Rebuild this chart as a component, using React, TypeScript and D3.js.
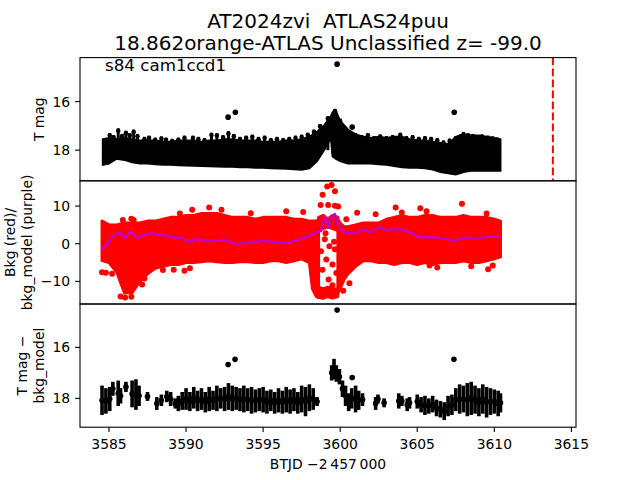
import * as d3 from 'd3';

const FONT = '"DejaVu Sans", sans-serif';
const RED = '#ff0000';
const PURPLE = '#bf00c8';

const TITLE_LINES = ['AT2024zvi  ATLAS24puu', '18.862orange-ATLAS Unclassified z= -99.0'];
const SECTOR_NOTE = 's84 cam1ccd1';
const X_LABEL = 'BTJD \u22122\u2009457\u2009000';
const X_TICKS = [3585, 3590, 3595, 3600, 3605, 3610, 3615];
const MAG_TICKS = [16, 18];
const BKG_TICKS = [10, 0, -10];
const DISCOVERY_T = 3613.8;

// top panel: light curve envelope (T mag)
const LC_TIME = [
  3584.6, 3585.0, 3585.5, 3586.0, 3586.5, 3587.0, 3587.5, 3588.0, 3588.5, 3589.0, 3589.5, 3590.0,
  3590.5, 3591.0, 3591.5, 3592.0, 3592.5, 3593.0, 3593.5, 3594.0, 3594.5, 3595.0, 3595.5, 3596.0,
  3596.5, 3597.0, 3597.5, 3598.0, 3598.5, 3599.0, 3599.4, 3599.5, 3599.7, 3600.0, 3600.5, 3601.0,
  3601.5, 3602.0, 3602.5, 3603.0, 3603.5, 3604.0, 3604.5, 3605.0, 3605.5, 3606.0, 3606.5, 3607.0,
  3607.5, 3608.0, 3608.5, 3609.0, 3609.5, 3610.0, 3610.4,
];
const LC_BRIGHT = [
  17.55, 17.5, 17.55, 17.5, 17.55, 17.6, 17.6, 17.6, 17.65, 17.65, 17.6, 17.6,
  17.6, 17.65, 17.6, 17.6, 17.55, 17.55, 17.6, 17.6, 17.6, 17.65, 17.65, 17.65,
  17.6, 17.6, 17.55, 17.45, 17.25, 16.95, 16.6, 16.45, 16.35, 16.8, 17.15, 17.35,
  17.45, 17.5, 17.45, 17.5, 17.45, 17.45, 17.55, 17.6, 17.6, 17.65, 17.7, 17.75,
  17.45, 17.35, 17.4, 17.4, 17.45, 17.5, 17.55,
];
const LC_FAINT = [
  18.6, 18.55, 18.35, 18.4, 18.5, 18.55, 18.55, 18.58, 18.6, 18.6, 18.62, 18.63,
  18.64, 18.65, 18.66, 18.67, 18.68, 18.68, 18.7, 18.7, 18.72, 18.72, 18.74, 18.75,
  18.76, 18.78, 18.8, 18.75, 18.45, 17.95, 17.5, 18.25, 18.35, 18.45, 18.55, 18.55,
  18.55, 18.55, 18.58, 18.6, 18.65, 18.7, 18.72, 18.72, 18.74, 18.8, 18.9, 18.95,
  19.0, 18.9, 18.85, 18.85, 18.85, 18.85, 18.85,
];
// brightest error-bar tips sticking out of the band [time, mag]
const LC_SPIKES: [number, number][] = [
  [3585.05, 17.3], [3585.3, 17.38], [3585.6, 17.1], [3585.85, 17.33], [3586.1, 17.2],
  [3586.35, 17.3], [3586.6, 17.15], [3586.85, 17.33], [3587.3, 17.45], [3587.6, 17.4],
  [3588.0, 17.48], [3588.4, 17.43], [3588.7, 17.48], [3589.1, 17.53], [3589.5, 17.48],
  [3589.9, 17.4], [3590.45, 17.4], [3590.8, 17.45], [3591.2, 17.5], [3591.65, 17.28],
  [3592.0, 17.3], [3592.4, 17.38], [3592.75, 17.22], [3593.1, 17.33], [3593.5, 17.45],
  [3593.9, 17.4], [3594.3, 17.36], [3594.7, 17.45], [3595.1, 17.4], [3595.5, 17.5],
  [3595.9, 17.45], [3596.3, 17.5], [3596.7, 17.45], [3597.1, 17.4], [3597.5, 17.36],
  [3597.9, 17.28], [3598.3, 17.15], [3598.7, 16.92], [3599.2, 16.6], [3599.66, 16.3],
  [3600.0, 16.7], [3600.4, 17.08], [3601.0, 17.3], [3601.4, 17.38], [3601.8, 17.3],
  [3602.2, 17.42], [3602.6, 17.35], [3603.0, 17.42], [3603.4, 17.38], [3603.9, 17.28],
  [3604.3, 17.42], [3604.7, 17.38], [3605.1, 17.45], [3605.5, 17.42], [3605.9, 17.45],
  [3606.3, 17.5], [3606.7, 17.6], [3607.1, 17.52], [3607.5, 17.42], [3607.8, 17.35],
  [3608.0, 17.25], [3608.3, 17.3], [3608.6, 17.33], [3608.9, 17.4], [3609.2, 17.35],
  [3609.6, 17.4], [3609.9, 17.43], [3610.2, 17.48],
];
const LC_OUTLIERS: [number, number][] = [
  [3592.73, 16.64], [3593.2, 16.44], [3599.8, 14.46], [3600.78, 17.05], [3607.4, 16.44],
];

// middle panel: background flux (red) envelope
const BKG_A_TIME = [
  3584.55, 3585.0, 3585.5, 3586.0, 3586.5, 3587.0, 3587.5, 3588.0, 3588.5, 3589.0, 3589.5, 3590.0,
  3590.5, 3591.0, 3591.5, 3592.0, 3592.5, 3593.0, 3593.5, 3594.0, 3594.5, 3595.0, 3595.5, 3596.0,
  3596.5, 3597.0, 3597.5, 3598.0, 3598.2, 3598.45, 3598.6,
];
const BKG_A_HIGH = [
  6.0, 5.0, 5.0, 5.5, 5.5, 5.5, 6.0, 6.0, 6.5, 7.0, 7.0, 7.5,
  7.5, 8.0, 8.0, 8.0, 7.5, 7.0, 7.0, 7.0, 6.5, 7.0, 7.0, 7.0,
  7.0, 6.5, 6.5, 6.0, 6.0, 6.0, 6.5,
];
const BKG_A_LOW = [
  -4.5, -5.0, -7.5, -13.0, -13.0, -10.0, -8.0, -6.5, -6.0, -5.5, -5.5, -5.0,
  -5.0, -4.8, -4.5, -4.8, -5.0, -5.0, -4.8, -4.8, -5.0, -5.0, -4.5, -4.5,
  -5.0, -4.5, -4.0, -5.0, -12.0, -14.0, -14.3,
];
const BKG_B_TIME = [
  3599.85, 3600.0, 3600.25, 3600.5, 3601.0, 3601.5, 3602.0, 3602.5, 3603.0, 3603.5, 3604.0, 3604.5,
  3605.0, 3605.5, 3606.0, 3606.5, 3607.0, 3607.5, 3608.0, 3608.5, 3609.0, 3609.5, 3610.0, 3610.4,
];
const BKG_B_HIGH = [
  6.5, 5.5, 4.5, 4.5, 5.0, 5.5, 5.5, 5.5, 6.5, 7.0, 7.5, 7.0,
  7.0, 7.5, 7.5, 7.0, 7.0, 7.0, 7.5, 7.0, 7.0, 7.0, 6.5, 6.0,
];
const BKG_B_LOW = [
  -13.0, -12.0, -9.5, -8.0, -6.0, -4.5, -4.5, -5.0, -5.0, -5.5, -5.0, -5.0,
  -5.5, -5.0, -5.5, -5.0, -5.0, -5.0, -4.5, -5.0, -5.0, -4.5, -4.0, -3.5,
];
// the split around the flare: a band above and a band below the gap
const DIP_TIME = [3598.6, 3598.9, 3599.2, 3599.5, 3599.85];
const DIP_UP_HIGH = [7.0, 7.5, 6.5, 7.5, 7.0];
const DIP_UP_LOW = [3.5, 4.0, 4.5, 4.0, 3.5];
const DIP_DOWN_HIGH = [-11.5, -12.0, -11.5, -12.0, -12.0];
const DIP_DOWN_LOW = [-14.3, -14.5, -14.0, -14.4, -14.0];
const BKG_DOTS: [number, number][] = [
  [3599.16, 15.2], [3599.44, 15.6], [3599.66, 13.9], [3598.86, 13.0], [3598.73, 10.3],
  [3599.22, 10.3], [3599.66, 10.1], [3599.87, 9.9], [3599.0, 1.2], [3599.3, -0.7],
  [3598.76, -2.0], [3599.66, -1.5], [3599.1, -4.2], [3599.5, -5.5], [3598.85, -6.9],
  [3599.75, -7.8], [3599.25, -9.5], [3599.5, -11.0], [3599.05, 2.8], [3599.6, 0.5],
  [3584.55, -7.6], [3584.8, -7.7], [3585.2, -8.0], [3585.75, -14.0], [3586.05, -14.3],
  [3586.45, -14.1], [3587.15, -10.8], [3587.3, -9.2], [3585.9, 6.3], [3586.6, 6.3],
  [3586.45, 6.6], [3588.5, -7.0], [3589.2, -6.9], [3589.9, -7.2], [3590.25, -6.5],
  [3589.6, 8.0], [3590.4, 9.0], [3591.5, 9.6], [3592.3, 9.0], [3594.2, 8.1],
  [3596.5, 8.6], [3597.6, 8.4],
  [3600.4, 6.5], [3601.1, 8.2], [3602.3, 7.8], [3603.6, 9.6], [3604.0, 8.3],
  [3605.2, 9.4], [3605.6, 8.6], [3607.9, 10.6], [3609.5, 8.0], [3605.8, -5.8],
  [3606.3, -6.3], [3608.5, -6.0], [3609.6, -6.8], [3609.9, -5.8], [3600.6, -10.5],
  [3600.2, -12.5],
];
// background model (purple)
const MODEL_TIME = [
  3584.51, 3584.94, 3585.26, 3585.69, 3586.02, 3586.25, 3586.45, 3586.78, 3587.1, 3587.75,
  3588.4, 3589.05, 3589.7, 3590.35, 3590.56, 3591.65, 3592.51, 3593.16, 3594.03, 3595.11,
  3596.41, 3597.27, 3598.03, 3598.46, 3598.79, 3599.0, 3599.22, 3599.44, 3599.65, 3599.87,
  3600.09, 3600.41, 3601.06, 3601.49, 3601.93, 3602.57, 3603.01, 3603.66, 3604.31, 3605.17,
  3606.04, 3606.9, 3607.34, 3608.2, 3608.85, 3609.5, 3610.37,
];
const MODEL_VALUE = [
  -1.4, 0.0, 2.1, 3.0, 1.5, 2.8, 3.0, 1.5, 2.0, 2.8,
  2.3, 1.8, 1.5, 0.35, 1.2, 0.8, 1.1, -0.1, 0.3, 0.8,
  0.1, 1.0, 2.1, 3.0, 3.5, 7.4, 4.3, 6.9, 7.9, 5.5,
  3.6, 2.7, 3.0, 3.85, 3.0, 4.4, 3.5, 3.9, 3.5, 1.7,
  1.7, 1.3, 0.8, 1.7, 1.3, 1.9, 1.9,
];

// bottom panel: T mag - bkg_model, binned error bars [time, bright, faint]
const CORR_BARS: [number, number, number][] = [
  [3584.55, 17.5, 18.65], [3584.8, 17.6, 18.6], [3585.05, 17.55, 18.5], [3585.25, 17.35, 17.9],
  [3585.6, 17.3, 18.3], [3585.75, 17.6, 18.2], [3586.1, 17.35, 17.75], [3586.5, 17.3, 18.35],
  [3586.75, 17.25, 18.45], [3586.95, 17.5, 18.3], [3587.5, 17.75, 18.1], [3588.1, 17.95, 18.45],
  [3588.4, 17.85, 18.3], [3588.75, 17.7, 18.15], [3589.0, 17.75, 18.3], [3589.3, 18.0, 18.4],
  [3589.5, 17.9, 18.5], [3589.75, 17.75, 18.45], [3590.0, 17.6, 18.45], [3590.25, 17.75, 18.5],
  [3590.5, 17.55, 18.4], [3590.75, 17.7, 18.5], [3591.0, 17.6, 18.45], [3591.25, 17.75, 18.55],
  [3591.5, 17.55, 18.5], [3591.75, 17.7, 18.45], [3592.0, 17.5, 18.5], [3592.25, 17.6, 18.4],
  [3592.5, 17.55, 18.5], [3592.75, 17.4, 18.45], [3593.0, 17.5, 18.5], [3593.25, 17.55, 18.45],
  [3593.5, 17.6, 18.5], [3593.75, 17.5, 18.55], [3594.0, 17.6, 18.5], [3594.25, 17.55, 18.6],
  [3594.5, 17.65, 18.55], [3594.75, 17.6, 18.5], [3595.0, 17.55, 18.55], [3595.25, 17.7, 18.6],
  [3595.5, 17.65, 18.5], [3595.75, 17.75, 18.6], [3596.0, 17.6, 18.55], [3596.25, 17.7, 18.6],
  [3596.5, 17.55, 18.55], [3596.75, 17.65, 18.6], [3597.0, 17.6, 18.5], [3597.25, 17.75, 18.6],
  [3597.5, 17.5, 18.55], [3597.75, 17.55, 18.7], [3598.0, 17.45, 18.5], [3598.25, 17.6, 18.45],
  [3598.5, 17.95, 18.3], [3599.45, 16.7, 17.3], [3599.6, 16.45, 17.25], [3599.75, 16.7, 17.35],
  [3599.95, 16.85, 17.45], [3600.15, 17.3, 17.95], [3600.35, 17.5, 18.3], [3600.55, 17.8, 18.5],
  [3600.75, 17.6, 18.4], [3601.0, 17.5, 18.55], [3601.2, 17.7, 18.45], [3601.45, 17.8, 18.3],
  [3602.3, 17.95, 18.45], [3602.45, 17.85, 18.2], [3602.85, 18.0, 18.35], [3603.8, 17.8, 18.4],
  [3604.0, 17.9, 18.3], [3604.35, 18.0, 18.5], [3604.5, 17.95, 18.4], [3605.0, 17.85, 18.4],
  [3605.25, 17.95, 18.55], [3605.5, 17.9, 18.65], [3605.75, 18.0, 18.6], [3606.0, 17.9, 18.55],
  [3606.25, 18.05, 18.7], [3606.5, 18.1, 18.75], [3606.75, 18.15, 18.85], [3607.0, 17.9, 18.7],
  [3607.25, 17.85, 18.65], [3607.5, 17.6, 18.5], [3607.75, 17.45, 18.6], [3608.0, 17.5, 18.55],
  [3608.25, 17.4, 18.7], [3608.5, 17.35, 18.65], [3608.75, 17.5, 18.6], [3609.0, 17.6, 18.7],
  [3609.25, 17.45, 18.6], [3609.5, 17.55, 18.75], [3609.75, 17.6, 18.65], [3610.0, 17.65, 18.6],
  [3610.25, 17.7, 18.7], [3610.4, 17.8, 18.55],
];
const CORR_OUTLIERS: [number, number][] = [
  [3592.73, 16.67], [3593.18, 16.47], [3599.8, 14.54], [3600.78, 17.18], [3607.38, 16.47],
];

const W = 640;
const H = 480;
const LEFT = 80;
const RIGHT = 576;
const PANEL_H = 123.2;
const TOPS = [57.6, 57.6 + PANEL_H, 57.6 + 2 * PANEL_H];
const TICK = 4.9;
const TICK_FS = 13.9;

const fmt = (v: number) => (v < 0 ? `\u2212${Math.abs(v)}` : `${v}`);

function YAxis({ scale, ticks }: { scale: d3.ScaleLinear<number, number>; ticks: number[] }) {
  return (
    <g>
      {ticks.map((t) => (
        <g key={t}>
          <line x1={LEFT - TICK} x2={LEFT} y1={scale(t)} y2={scale(t)} stroke="#000" strokeWidth={1.1} />
          <text
            x={LEFT - TICK - 4.9}
            y={scale(t)}
            dy="0.36em"
            textAnchor="end"
            fontSize={TICK_FS}
            fontFamily={FONT}
          >
            {fmt(t)}
          </text>
        </g>
      ))}
    </g>
  );
}

function YLabel({ lines, x, cy }: { lines: string[]; x: number; cy: number }) {
  const gap = 16.7;
  return (
    <g>
      {lines.map((l, i) => (
        <text
          key={l}
          transform={`translate(${x - (lines.length - 1 - i) * gap},${cy}) rotate(-90)`}
          textAnchor="middle"
          fontSize={TICK_FS}
          fontFamily={FONT}
        >
          {l}
        </text>
      ))}
    </g>
  );
}

export default function App() {
  const x = d3.scaleLinear().domain([3583.12, 3615.3]).range([LEFT, RIGHT]);
  const yTop = d3.scaleLinear().domain([14.19, 19.26]).range([TOPS[0], TOPS[0] + PANEL_H]);
  const yMid = d3.scaleLinear().domain([16.7, -16.0]).range([TOPS[1], TOPS[1] + PANEL_H]);
  const yBot = d3.scaleLinear().domain([14.3, 19.13]).range([TOPS[2], TOPS[2] + PANEL_H]);

  const band = (
    time: number[],
    hi: number[],
    lo: number[],
    y: d3.ScaleLinear<number, number>,
  ) =>
    d3
      .area<number>()
      .x((i) => x(time[i]))
      .y0((i) => y(lo[i]))
      .y1((i) => y(hi[i]))(d3.range(time.length)) ?? '';

  const modelLine =
    d3
      .line<number>()
      .x((i) => x(MODEL_TIME[i]))
      .y((i) => yMid(MODEL_VALUE[i]))(d3.range(MODEL_TIME.length)) ?? '';

  const bottomY = TOPS[2] + PANEL_H;
  const redBand = { fill: RED, stroke: RED, strokeWidth: 3, strokeLinejoin: 'round' as const };

  return (
    <svg
      width={W}
      height={H}
      style={{ position: 'absolute', left: 0, top: 0, background: '#fff' }}
      fontFamily={FONT}
    >
      <rect width={W} height={H} fill="#fff" />

      {TITLE_LINES.map((t, i) => (
        <text
          key={t}
          x={328}
          y={28 + i * 22}
          textAnchor="middle"
          fontSize={20}
          style={{ whiteSpace: 'pre' }}
        >
          {t}
        </text>
      ))}

      {/* top panel */}
      <path d={band(LC_TIME, LC_BRIGHT, LC_FAINT, yTop)} fill="#000" stroke="#000" strokeWidth={2} />
      {LC_SPIKES.map(([t, m], i) => (
        <g key={i}>
          <line x1={x(t)} x2={x(t)} y1={yTop(m)} y2={yTop(18.0)} stroke="#000" strokeWidth={3} />
          <circle cx={x(t)} cy={yTop(m + 0.1)} r={2.3} fill="#000" />
        </g>
      ))}
      {LC_OUTLIERS.map(([t, m], i) => (
        <circle key={i} cx={x(t)} cy={yTop(m)} r={2.8} fill="#000" />
      ))}
      <line
        x1={x(DISCOVERY_T)}
        x2={x(DISCOVERY_T)}
        y1={TOPS[0]}
        y2={TOPS[0] + PANEL_H}
        stroke={RED}
        strokeWidth={2}
        strokeDasharray="7.7 3.3"
      />
      <text x={105} y={70.5} fontSize={16.7}>
        {SECTOR_NOTE}
      </text>

      {/* middle panel */}
      <path d={band(BKG_A_TIME, BKG_A_HIGH, BKG_A_LOW, yMid)} {...redBand} />
      <path d={band(BKG_B_TIME, BKG_B_HIGH, BKG_B_LOW, yMid)} {...redBand} />
      <path d={band(DIP_TIME, DIP_UP_HIGH, DIP_UP_LOW, yMid)} {...redBand} />
      <path d={band(DIP_TIME, DIP_DOWN_HIGH, DIP_DOWN_LOW, yMid)} {...redBand} />
      {BKG_DOTS.map(([t, v], i) => (
        <circle key={i} cx={x(t)} cy={yMid(v)} r={3} fill={RED} />
      ))}
      <path d={modelLine} fill="none" stroke={PURPLE} strokeWidth={2.4} strokeLinejoin="round" />

      {/* bottom panel */}
      {CORR_BARS.map(([t, b, f], i) => (
        <g key={i}>
          <line x1={x(t)} x2={x(t)} y1={yBot(b)} y2={yBot(f)} stroke="#000" strokeWidth={3.6} />
          <circle cx={x(t)} cy={yBot((b + f) / 2)} r={2.8} fill="#000" />
        </g>
      ))}
      {CORR_OUTLIERS.map(([t, m], i) => (
        <circle key={i} cx={x(t)} cy={yBot(m)} r={2.8} fill="#000" />
      ))}

      {/* frames */}
      {TOPS.map((top) => (
        <rect
          key={top}
          x={LEFT}
          y={top}
          width={RIGHT - LEFT}
          height={PANEL_H}
          fill="none"
          stroke="#000"
          strokeWidth={1.1}
        />
      ))}

      <YAxis scale={yTop} ticks={MAG_TICKS} />
      <YAxis scale={yMid} ticks={BKG_TICKS} />
      <YAxis scale={yBot} ticks={MAG_TICKS} />

      {X_TICKS.map((t) => (
        <g key={t}>
          <line x1={x(t)} x2={x(t)} y1={bottomY} y2={bottomY + TICK} stroke="#000" strokeWidth={1.1} />
          <text x={x(t)} y={bottomY + 21.5} textAnchor="middle" fontSize={TICK_FS}>
            {t}
          </text>
        </g>
      ))}
      <text x={328} y={468.5} textAnchor="middle" fontSize={TICK_FS}>
        {X_LABEL}
      </text>

      <YLabel lines={['T mag']} x={43.6} cy={TOPS[0] + PANEL_H / 2} />
      <YLabel lines={['Bkg (red)/', 'bkg_model (purple)']} x={32} cy={TOPS[1] + PANEL_H / 2} />
      <YLabel lines={['T mag \u2212', 'bkg_model']} x={43.6} cy={TOPS[2] + PANEL_H / 2} />
    </svg>
  );
}
